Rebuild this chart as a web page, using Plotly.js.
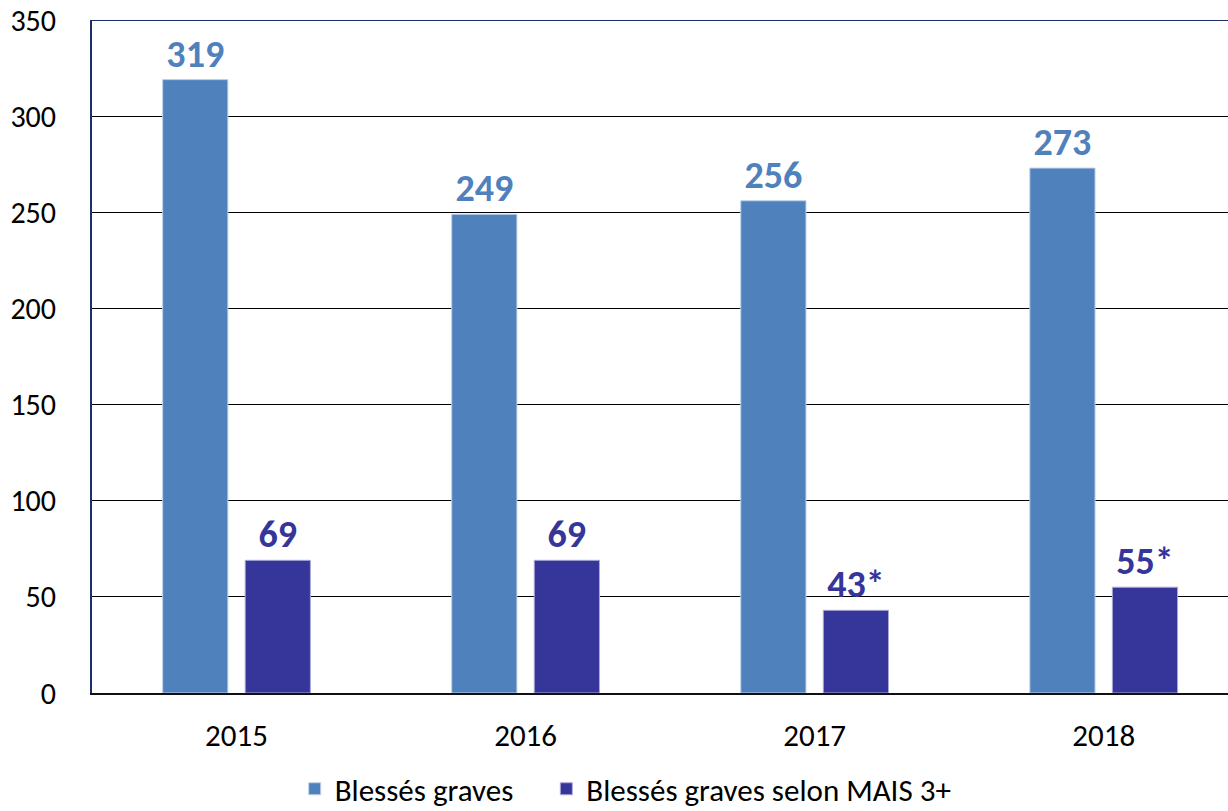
<!DOCTYPE html>
<html>
<head>
<meta charset="utf-8">
<script src="https://cdn.plot.ly/plotly-3.0.1.min.js"></script>
<style>
  html, body { margin: 0; padding: 0; background: #fff; }
  #chart { width: 1228px; height: 811px; }
</style>
</head>
<body>
<div id="chart"></div>
<script>
const YEARS = ['2015', '2016', '2017', '2018'];
const GRAVES = [319, 249, 256, 273];
const GRAVES_LABELS = ['319', '249', '256', '273'];
const MAIS = [69, 69, 43, 55];
const MAIS_LABELS = ['69', '69', '43*', '55*'];

const LIGHT = '#4F81BD';
const DARK = '#35359A';
const FONT = 'Carlito, Lato, "Open Sans", sans-serif';
// non-breaking spaces widen the gap between the two legend entries
const PAD = '\u00a0\u00a0\u00a0\u00a0';

const traces = [
    {
        type: 'bar',
        name: 'Blessés graves' + PAD,
        x: YEARS,
        y: GRAVES,
        text: GRAVES_LABELS,
        textposition: 'outside',
        textfont: { family: FONT, size: 38, color: LIGHT, weight: 'bold' },
        marker: { color: LIGHT, line: { color: '#BFD0E8', width: 1 } },
        cliponaxis: false,
        hoverinfo: 'none'
    },
    {
        type: 'bar',
        name: 'Blessés graves selon MAIS 3+',
        x: YEARS,
        y: MAIS,
        text: MAIS_LABELS,
        textposition: 'outside',
        textfont: { family: FONT, size: 38, color: DARK, weight: 'bold' },
        marker: { color: DARK, line: { color: '#A8A8D8', width: 1 } },
        cliponaxis: false,
        hoverinfo: 'none'
    }
];

const layout = {
    width: 1228,
    height: 811,
    margin: { l: 92, r: 0, t: 20, b: 118 },
    paper_bgcolor: '#fff',
    plot_bgcolor: '#fff',
    font: { family: FONT, size: 30, color: '#000' },
    barmode: 'group',
    bargap: 0.429,
    bargroupgap: 0.21,
    showlegend: true,
    legend: {
        orientation: 'h',
        xref: 'container',
        yref: 'container',
        x: 0.24,
        xanchor: 'left',
        y: 0.027,
        yanchor: 'middle',
        font: { family: FONT, size: 31, color: '#000' },
        itemwidth: 30,
        traceorder: 'normal'
    },
    xaxis: {
        type: 'category',
        range: [-0.5, 3.43],
        showline: true,
        linecolor: '#111',
        linewidth: 2,
        ticks: '',
        tickfont: { family: FONT, size: 31, color: '#000' },
        ticklabelstandoff: 14,
        showgrid: false
    },
    yaxis: {
        range: [0, 350],
        dtick: 50,
        showline: true,
        linecolor: '#1F2F66',
        linewidth: 2,
        showgrid: true,
        gridcolor: '#000',
        gridwidth: 1,
        zeroline: false,
        ticks: '',
        ticklen: 0,
        tickfont: { family: FONT, size: 30, color: '#000' },
        ticklabelstandoff: 28
    },
    shapes: [
        {
            type: 'line', xref: 'paper', yref: 'y',
            x0: 0, x1: 1, y0: 350, y1: 350,
            line: { color: '#1F2F66', width: 2 }
        }
    ]
};

Plotly.newPlot('chart', traces, layout, { displayModeBar: false, staticPlot: true });
</script>
</body>
</html>
